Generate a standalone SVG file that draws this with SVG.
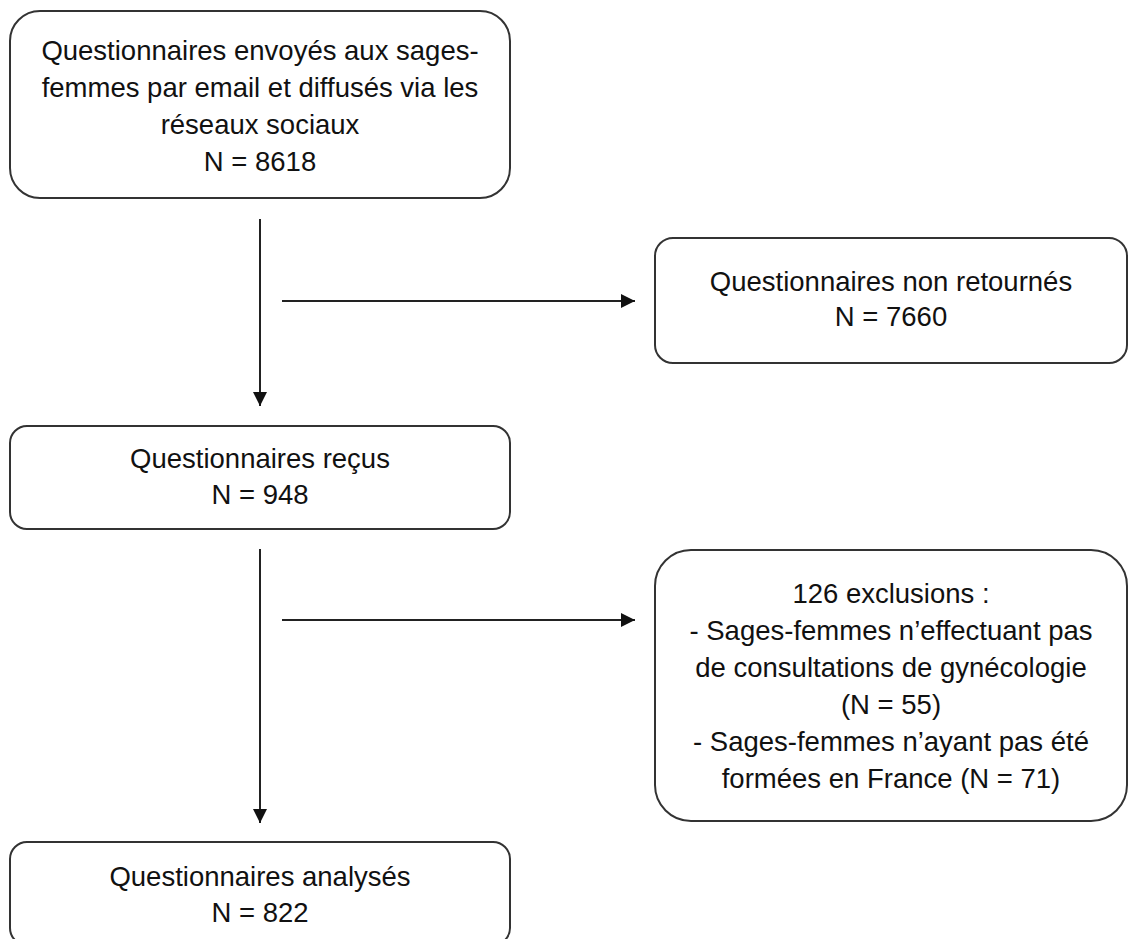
<svg xmlns="http://www.w3.org/2000/svg" width="1129" height="939" viewBox="0 0 1129 939">
<style>
.box{fill:#fff;stroke:#333;stroke-width:2}
.t{font-family:"Liberation Sans",Arial,sans-serif;font-size:27.5px;fill:#111;text-anchor:middle}
.c{stroke:#222;stroke-width:2;fill:none;marker-end:url(#ah)}
</style>
<defs>
<marker id="ah" viewBox="0 0 10 10" refX="10" refY="5" markerWidth="7" markerHeight="7" markerUnits="strokeWidth" orient="auto">
<path d="M0,0 L10,5 L0,10 z" fill="#111"/>
</marker>
</defs>
<rect width="1129" height="939" fill="#fff"/>
<g id="connectors">
<line class="c" x1="260" y1="219" x2="260" y2="406"/>
<line class="c" x1="282" y1="301" x2="635" y2="301"/>
<line class="c" x1="260" y1="549" x2="260" y2="823"/>
<line class="c" x1="282" y1="620" x2="635" y2="620"/>
</g>
<g id="node-envoyes">
<rect class="box" x="10" y="11" width="500" height="187" rx="30" ry="30"/>
<text class="t" x="260" y="60">Questionnaires envoyés aux sages-</text>
<text class="t" x="260" y="97">femmes par email et diffusés via les</text>
<text class="t" x="260" y="134">réseaux sociaux</text>
<text class="t" x="260" y="171">N = 8618</text>
</g>
<g id="node-non-retournes">
<rect class="box" x="655" y="238" width="472" height="125" rx="18" ry="18"/>
<text class="t" x="891" y="291">Questionnaires non retournés</text>
<text class="t" x="891" y="326">N = 7660</text>
</g>
<g id="node-recus">
<rect class="box" x="10" y="426" width="500" height="103" rx="17" ry="17"/>
<text class="t" x="260" y="468">Questionnaires reçus</text>
<text class="t" x="260" y="504">N = 948</text>
</g>
<g id="node-exclusions">
<rect class="box" x="655" y="550" width="472" height="271" rx="36" ry="36"/>
<text class="t" x="891" y="603">126 exclusions :</text>
<text class="t" x="891" y="640">- Sages-femmes n’effectuant pas</text>
<text class="t" x="891" y="677">de consultations de gynécologie</text>
<text class="t" x="891" y="714">(N = 55)</text>
<text class="t" x="891" y="751">- Sages-femmes n’ayant pas été</text>
<text class="t" x="891" y="788">formées en France (N = 71)</text>
</g>
<g id="node-analyses">
<rect class="box" x="10" y="842" width="500" height="103" rx="17" ry="17"/>
<text class="t" x="260" y="886">Questionnaires analysés</text>
<text class="t" x="260" y="922">N = 822</text>
</g>
</svg>
